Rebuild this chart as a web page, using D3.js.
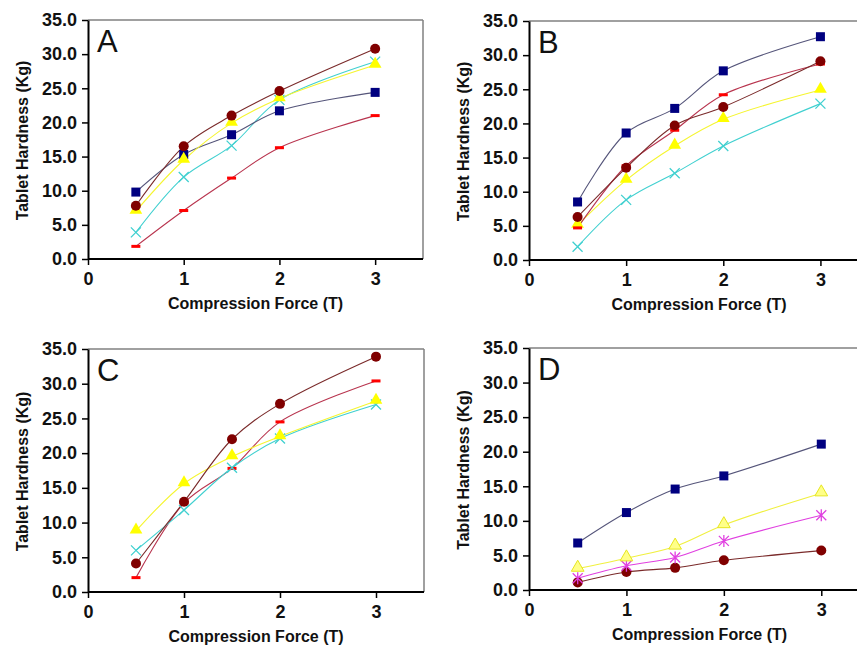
<!DOCTYPE html>
<html>
<head>
<meta charset="utf-8">
<script src="https://cdn.jsdelivr.net/npm/d3@7"></script>
<style>
  body { margin: 0; background: #fff; }
  svg { display: block; font-family: "Liberation Sans", Arial, sans-serif; }
</style>
</head>
<body>
<script>
// compression force (T)
var forces = [0.5, 1, 1.5, 2, 3];
var xTicks = [0, 1, 2, 3];
var yTicks = [0, 5, 10, 15, 20, 25, 30, 35];
var panelNames = ["A", "B", "C", "D"];

// tablet hardness (Kg)
var aSquare = [9.8, 15.3, 18.2, 21.7, 24.4];
var aCircle = [7.8, 16.5, 21.0, 24.6, 30.8];
var aTriangle = [7.0, 14.5, 19.9, 23.5, 28.4];
var aCross = [3.9, 12.0, 16.6, 23.3, 28.9];
var aDash = [1.85, 7.1, 11.85, 16.3, 21.0];

var bSquare = [8.5, 18.6, 22.2, 27.7, 32.7];
var bCircle = [6.3, 13.5, 19.7, 22.4, 29.1];
var bDash = [4.7, 13.8, 19.0, 24.2, 28.7];
var bTriangle = [5.1, 11.7, 16.7, 20.6, 24.9];
var bCross = [1.95, 8.8, 12.7, 16.7, 22.9];

var cCircle = [4.1, 13.0, 22.0, 27.1, 33.9];
var cDash = [2.07, 12.8, 17.8, 24.5, 30.4];
var cTriangle = [8.8, 15.6, 19.5, 22.4, 27.5];
var cCross = [6.0, 11.8, 17.9, 22.1, 27.0];

var dSquare = [6.8, 11.2, 14.6, 16.5, 21.1];
var dTriangle = [3.1, 4.6, 6.3, 9.4, 14.0];
var dStar = [1.7, 3.5, 4.7, 7.1, 10.8];
var dCircle = [1.1, 2.6, 3.2, 4.3, 5.7];

var styles = {
    dash:     {line: "#b8344e", fill: "#ff0000"},
    cross:    {line: "#40d0d0", fill: "#40d0d0"},
    square:   {line: "#55557a", fill: "#000080"},
    triangle: {line: "#f5f530", fill: "#ffff00"},
    paleTri:  {line: "#f0f040", fill: "#ffff88"},
    circle:   {line: "#7a2a2a", fill: "#800000"},
    star:     {line: "#e040e0", fill: "#e040e0"}
};

var panels = [
    {name: "A", left: 88, top: 20, bottom: 259, right: 423, frameRight: true,
     series: [["dash", aDash], ["cross", aCross], ["square", aSquare], ["triangle", aTriangle], ["circle", aCircle]]},
    {name: "B", left: 529, top: 21, bottom: 260, right: 869, frameRight: false,
     series: [["cross", bCross], ["triangle", bTriangle], ["square", bSquare], ["dash", bDash], ["circle", bCircle]]},
    {name: "C", left: 88, top: 349, bottom: 592, right: 424, frameRight: true,
     series: [["dash", cDash], ["cross", cCross], ["triangle", cTriangle], ["circle", cCircle]]},
    {name: "D", left: 529, top: 348, bottom: 590, right: 870, frameRight: false,
     series: [["circle", dCircle], ["star", dStar], ["paleTri", dTriangle], ["square", dSquare]]}
];

var svg = d3.select("body").append("svg")
    .attr("width", 857)
    .attr("height", 647);

function drawMarker(g, type, cx, cy) {
    var st = styles[type];
    if (type == "square") {
        g.append("rect").attr("x", cx - 4.5).attr("y", cy - 4.5)
            .attr("width", 9).attr("height", 9).attr("fill", st.fill);
    } else if (type == "circle") {
        g.append("circle").attr("cx", cx).attr("cy", cy).attr("r", 5)
            .attr("fill", st.fill);
    } else if (type == "triangle" || type == "paleTri") {
        g.append("path")
            .attr("d", d3.symbol().type(d3.symbolTriangle).size(70)())
            .attr("transform", "translate(" + cx + "," + (cy - 1) + ")")
            .attr("fill", st.fill)
            .attr("stroke", type == "paleTri" ? "#e6e620" : "none");
    } else if (type == "cross") {
        g.append("path")
            .attr("d", "M" + (cx - 5) + "," + (cy - 5) + "L" + (cx + 5) + "," + (cy + 5) +
                       "M" + (cx - 5) + "," + (cy + 5) + "L" + (cx + 5) + "," + (cy - 5))
            .attr("stroke", st.fill).attr("stroke-width", 1.3);
    } else if (type == "dash") {
        g.append("rect").attr("x", cx - 4.5).attr("y", cy - 1.5)
            .attr("width", 9).attr("height", 3).attr("fill", st.fill);
    } else if (type == "star") {
        g.append("path")
            .attr("d", "M" + (cx - 5) + "," + (cy - 5) + "L" + (cx + 5) + "," + (cy + 5) +
                       "M" + (cx - 5) + "," + (cy + 5) + "L" + (cx + 5) + "," + (cy - 5) +
                       "M" + cx + "," + (cy - 6) + "L" + cx + "," + (cy + 6))
            .attr("stroke", st.fill).attr("stroke-width", 1.3);
    }
}

panels.forEach(function(p) {
    var x = d3.scaleLinear().domain([0, 3.5]).range([p.left, p.right]);
    var y = d3.scaleLinear().domain([0, 35]).range([p.bottom, p.top]);
    var g = svg.append("g");

    // grey frame (top and right)
    g.append("line")
        .attr("x1", p.left).attr("x2", Math.min(p.right, 857))
        .attr("y1", p.top).attr("y2", p.top)
        .attr("stroke", "#808080").attr("stroke-width", 1.5);
    if (p.frameRight) {
        g.append("line")
            .attr("x1", p.right).attr("x2", p.right)
            .attr("y1", p.top).attr("y2", p.bottom)
            .attr("stroke", "#808080").attr("stroke-width", 1.5);
    }

    var line = d3.line()
        .x((d, i) => x(forces[i]))
        .y(d => y(d))
        .curve(d3.curveCatmullRom.alpha(0.5));

    p.series.forEach(function(s) {
        g.append("path")
            .datum(s[1])
            .attr("d", line)
            .attr("fill", "none")
            .attr("stroke", styles[s[0]].line)
            .attr("stroke-width", 1.1);
    });
    p.series.forEach(function(s) {
        s[1].forEach(function(v, i) {
            drawMarker(g, s[0], x(forces[i]), y(v));
        });
    });

    // axes
    var xAxis = g.append("g")
        .attr("transform", "translate(0," + p.bottom + ")")
        .call(d3.axisBottom(x).tickValues(xTicks).tickFormat(d3.format("d"))
            .tickSize(6).tickSizeOuter(0).tickPadding(7));
    var yAxis = g.append("g")
        .attr("transform", "translate(" + p.left + ",0)")
        .call(d3.axisLeft(y).tickValues(yTicks).tickFormat(d3.format(".1f"))
            .tickSize(6).tickSizeOuter(0).tickPadding(5));
    [xAxis, yAxis].forEach(function(a) {
        a.select(".domain").attr("stroke", "#000").attr("stroke-width", 2);
        a.selectAll(".tick line").attr("stroke", "#000").attr("stroke-width", 1.5);
        a.selectAll(".tick text")
            .attr("font-family", "Liberation Sans, Arial, sans-serif")
            .attr("font-size", 18).attr("font-weight", "bold").attr("fill", "#111");
    });
    xAxis.select(".domain").attr("d", "M" + p.left + ",0H" + Math.min(p.right, 857));

    // panel letter
    g.append("text")
        .attr("x", p.left + 9)
        .attr("y", p.top + 32)
        .attr("font-size", 31)
        .attr("fill", "#111")
        .text(p.name);

    // axis titles
    g.append("text")
        .attr("x", (p.left + p.right) / 2)
        .attr("y", p.bottom + 50)
        .attr("text-anchor", "middle")
        .attr("font-size", 16).attr("font-weight", "bold").attr("fill", "#111")
        .text("Compression Force (T)");
    g.append("text")
        .attr("transform", "translate(" + (p.left - 60) + "," + ((p.top + p.bottom) / 2 + 1) + ") rotate(-90)")
        .attr("text-anchor", "middle")
        .attr("font-size", 16).attr("font-weight", "bold").attr("fill", "#111")
        .text("Tablet Hardness (Kg)");
});
</script>
</body>
</html>
